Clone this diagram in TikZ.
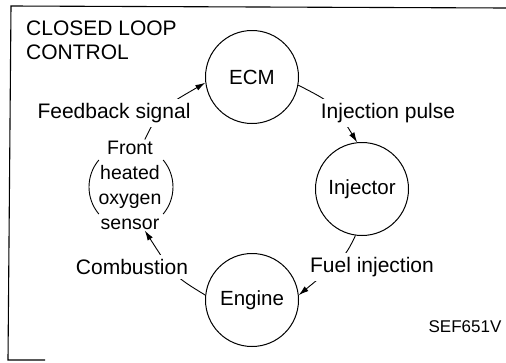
\documentclass[tikz,border=0pt]{standalone}
\usepackage{fontspec}
\setmainfont{Liberation Sans}
\usetikzlibrary{arrows.meta}
\begin{document}
\begin{tikzpicture}[x=1pt,y=-1pt,
  txt/.style={font=\fontsize{20.5}{25}\selectfont},
  bigtxt/.style={font=\fontsize{21}{24}\selectfont},
  unit/.style={circle,draw,line width=1pt,minimum size=93pt,inner sep=0pt,txt},
  lbl/.style={font=\fontsize{19.5}{25}\selectfont,inner sep=1pt},
  cover/.style={bigtxt,inner sep=1pt,fill=white,inner ysep=4pt},
  conn/.style={line width=0.9pt},
  arr/.style={conn,-{Latex[length=10pt,width=6pt]}},
  frame/.style={line width=1.1pt}]
\useasboundingbox (0,0) rectangle (506,362);
% frame
\coordinate (fa) at (45,360);
\coordinate (fb) at (8,360);
\coordinate (fc) at (11,6);
\coordinate (fd) at (506,8);
\draw[frame] (fa) -- (fb) -- (fc) -- (fd);
% title
\node[bigtxt,inner sep=1pt,align=left,anchor=west] (title) at (25,40) {CLOSED LOOP\\CONTROL};
% units
\node[unit] (ecm) at (252,77) {ECM};
\node[unit] (inj) at (362,189) {Injector};
\node[unit] (eng) at (252,300) {Engine};
% sensor
\node[lbl,align=center] (sens) at (130,185) {Front\\heated\\oxygen\\sensor};
\coordinate (sc) at (131,187);
\draw[conn] ([shift={(sc)}]140:42) arc (140:220:42);
\draw[conn] ([shift={(sc)}]-40:42) arc (-40:40:42);
% connectors
\draw[arr] (sens.72) .. controls (160,109) .. (ecm.187);
\draw[arr] (ecm.-10) .. controls (333,103) .. (inj.96);
\draw[arr] (inj.262) .. controls (345,257) .. (eng.6);
\draw[arr] (eng.174) .. controls (174,276) .. (sens.-72);
% labels
\node[cover] (lfb) at (114,113) {Feedback signal};
\node[cover] (lip) at (388,113) {Injection pulse};
\node[cover] (lfi) at (372,267) {Fuel injection};
\node[cover] (lco) at (132,267) {Combustion};
\node[font=\fontsize{17}{20}\selectfont,inner sep=1pt] (code) at (465,327) {SEF651V};
\end{tikzpicture}
\end{document}
